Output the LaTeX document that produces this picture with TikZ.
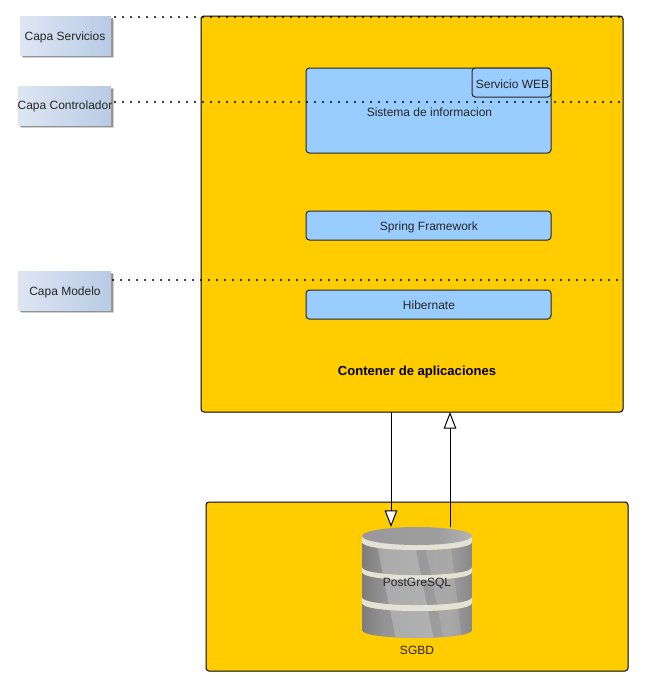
\documentclass[tikz,border=0pt]{standalone}
\usepackage{fontspec}
\setmainfont{Liberation Sans}
\usetikzlibrary{arrows.meta,shadows}
\definecolor{cont}{HTML}{FFCC00}
\definecolor{comp}{HTML}{99CCFF}
\definecolor{ringc}{HTML}{E2E2D8}
\pgfdeclarehorizontalshading{discshade}{100bp}{
  color(0bp)=(black!72); color(14bp)=(black!62); color(35bp)=(black!42); color(65bp)=(black!38); color(85bp)=(black!55); color(100bp)=(black!72)}
\pgfdeclarehorizontalshading{topshade}{100bp}{
  color(0bp)=(black!32); color(25bp)=(black!40); color(60bp)=(black!38); color(100bp)=(black!16)}
\newcommand{\discpath}[2]{(362,#1) -- (362,#2) .. controls (362,#2+10.7) and (472,#2+10.7) .. (472,#2) -- (472,#1) .. controls (472,#1+10.7) and (362,#1+10.7) .. (362,#1) -- cycle}
\newcommand{\disc}[2]{\begin{scope}\clip \discpath{#1}{#2};
  \shade[shading=discshade] (362,#1) rectangle (472,#2+9);
  \fill[white,opacity=.22] (376,540) -- (414,540) -- (434,640) -- (396,640) -- cycle;
  \fill[white,opacity=.12] (424,540) -- (450,540) -- (462,640) -- (444,640) -- cycle;
  \end{scope}}
\newcommand{\ringband}[2]{\fill[ringc] \discpath{#1}{#2};}
\tikzset{
  x=0.75pt,y=-0.75pt,
  every node/.style={font=\fontsize{9}{11}\selectfont,text=black!85,inner sep=0pt,outer sep=0pt},
  container/.style={draw=black,fill=cont,line width=0.75pt,rounded corners=2.2pt,anchor=north west},
  component/.style={draw=black!85,fill=comp,line width=0.75pt,rounded corners=2.5pt,anchor=north west},
  layerbox/.style={
    left color={rgb,255:red,222;green,230;blue,243},right color={rgb,255:red,184;green,203;blue,228},
    anchor=north west,
    drop shadow={shadow xshift=2.2pt,shadow yshift=-2.4pt,opacity=.18,fill=black},
    drop shadow={shadow xshift=1.2pt,shadow yshift=-1.4pt,opacity=.3,fill=black}},
  plain/.style={anchor=center},
  layerline/.style={line width=1.7pt,line cap=round,dash pattern=on 0pt off 6pt,black},
  flow/.style={draw=black,line width=0.75pt,-{Triangle[open,fill=white,length=12.5pt,width=9.5pt]}}
}
\begin{document}
\begin{tikzpicture}
\useasboundingbox (0,0) rectangle (648,687);
% containers
\node[container,minimum width=316.5pt,minimum height=297pt] (app) at (201,16) {};
\node[container,minimum width=316.5pt,minimum height=126.75pt] (sgbd) at (206,502) {};
% components
\node[component,minimum width=183.75pt,minimum height=63.75pt] (sis) at (306,68) {};
\node[plain] (sislabel) at (429.5,112) {Sistema de informacion};
\node[component,minimum width=59.25pt,minimum height=21.75pt] (web) at (472,68) {};
\node[plain] (weblabel) at (512.5,84) {Servicio WEB};
\node[component,minimum width=183.75pt,minimum height=21.75pt] (spring) at (306,211) {};
\node[plain] (springlabel) at (429,227.5) {Spring Framework};
\node[component,minimum width=183.75pt,minimum height=21.75pt] (hib) at (306,290) {};
\node[plain] (hiblabel) at (429,305) {Hibernate};
\node[plain,font=\fontsize{9.8}{12}\selectfont\bfseries,text=black] (contlabel) at (417,372.5) {Contener de aplicaciones};
% layer labels
\node[layerbox,minimum width=68.25pt,minimum height=29.25pt] (capaS) at (20,16) {};
\node[plain] (capaSt) at (65,37.5) {Capa Servicios};
\node[layerbox,minimum width=69.75pt,minimum height=29.25pt] (capaC) at (18,86) {};
\node[plain] (capaCt) at (65,106.5) {Capa Controlador};
\node[layerbox,minimum width=69.75pt,minimum height=29.25pt] (capaM) at (18,271) {};
\node[plain] (capaMt) at (65,292.5) {Capa Modelo};
% dotted layer lines
\coordinate (endS) at (623,17);
\coordinate (endC) at (623,102);
\coordinate (endM) at (623,280);
\draw[layerline] (capaS.east |- endS) ++(4,0) -- (endS);
\draw[layerline] (capaC.east |- endC) ++(4,0) -- (endC);
\draw[layerline] (capaM.east |- endM) ++(2,0) -- (endM);
% database cylinder
\disc{603}{630}
\ringband{597}{603}
\disc{572}{597}
\ringband{567}{572}
\disc{542}{567}
\ringband{536}{542}
\shade[shading=topshade] (417,536) ellipse [x radius=55,y radius=9];
\node[plain] (pg) at (417,583) {PostGreSQL};
\node[plain] (sgbdlabel) at (417,650) {SGBD};
% arrows
\coordinate (inEnd) at (391,527);
\coordinate (outStart) at (450,527);
\draw[flow] (app.south -| inEnd) -- (inEnd);
\draw[flow] (outStart) -- (app.south -| outStart);
\end{tikzpicture}
\end{document}
